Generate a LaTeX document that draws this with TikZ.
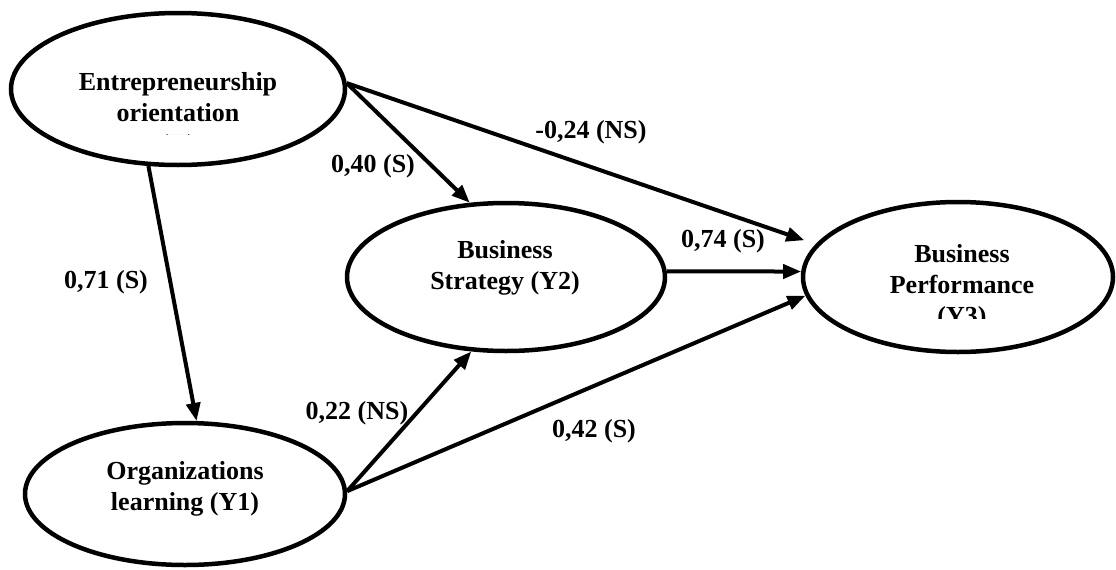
\documentclass[tikz,border=0pt]{standalone}
\usepackage{fontspec}
\setmainfont{Liberation Serif}
\usetikzlibrary{shapes.geometric,arrows.meta}
\begin{document}
\begin{tikzpicture}[x=1pt,y=-1pt,
  latent/.style={draw, ellipse, line width=4.5pt, inner sep=0pt},
  txt/.style={font=\fontsize{26}{31}\selectfont\bfseries, align=center, inner sep=0pt},
  lbl/.style={font=\fontsize{26}{31}\selectfont\bfseries, inner sep=0pt},
  link/.style={line width=4pt, -{Triangle[length=18pt,width=14pt]}}]
\useasboundingbox (0,0) rectangle (1116,570);
% latent variables
\node[latent, minimum width=334pt, minimum height=152pt] (E)  at (178,89) {};
\node[latent, minimum width=318pt, minimum height=148pt] (BS) at (506,277) {};
\node[latent, minimum width=310pt, minimum height=150pt] (BP) at (958,277) {};
\node[latent, minimum width=320pt, minimum height=142pt] (OL) at (185,494) {};
% texts
\begin{scope}
  \clip (0,0) rectangle (1116,134);
  \node[txt] (Et) at (178,115) {Entrepreneurship\\orientation\\(X)};
\end{scope}
\node[txt] (BSt) at (505,268) {Business\\Strategy (Y2)};
\begin{scope}
  \clip (0,0) rectangle (1116,318);
  \node[txt] (BPt) at (962,287) {Business\\Performance\\(Y3)};
\end{scope}
\node[txt] (OLt) at (185,489) {Organizations\\learning (Y1)};
% paths
\draw[link] (E.-111) -- (OL.81);
\draw[link, shorten >=12pt] (E.2) -- (BP.167);
\draw[link] (E.2) -- (BS.116);
\draw[link] (BS.2) -- (BP.178);
\draw[link] (OL.1) -- (BS.-115);
\draw[link] (OL.1) -- (BP.187);
% coefficients
\node[lbl] (l71) at (106,282) {0,71 (S)};
\node[lbl] (l24) at (591,132) {-0,24 (NS)};
\node[lbl] (l40) at (373,166) {0,40 (S)};
\node[lbl] (l74) at (723,241) {0,74 (S)};
\node[lbl] (l22) at (357,413) {0,22 (NS)};
\node[lbl] (l42) at (594,431) {0,42 (S)};
\end{tikzpicture}
\end{document}
